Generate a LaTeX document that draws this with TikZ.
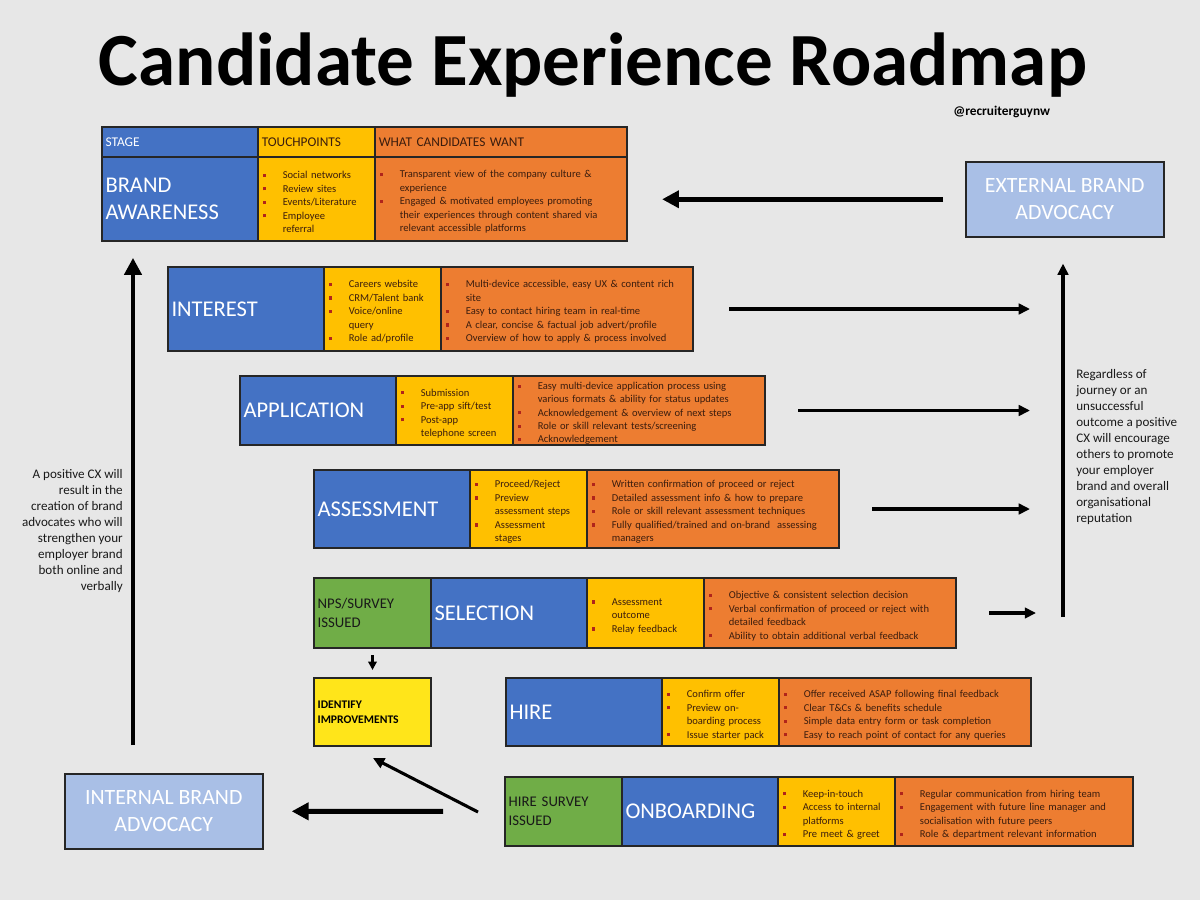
\documentclass[tikz,border=0pt]{standalone}
\usepackage{fontspec}
\setmainfont{Carlito}
\usetikzlibrary{positioning, arrows.meta, calc}

\definecolor{bggray}{HTML}{E7E7E7}
\definecolor{cblue}{HTML}{4472C4}
\definecolor{cyellow}{HTML}{FFC000}
\definecolor{corange}{HTML}{ED7D31}
\definecolor{cgreen}{HTML}{70AD47}
\definecolor{clight}{HTML}{A9BFE6}
\definecolor{cident}{HTML}{FFE51A}
\definecolor{ink}{HTML}{3B1D0E}
\definecolor{bulred}{HTML}{B0241B}

\newcommand\pxu{0.025cm}
% bullet item with hanging indent
\newcommand\itm[1]{\par\noindent\hangindent=15pt\hangafter=1%
  \makebox[15pt][l]{\hspace{1pt}\textcolor{bulred}{\rule[0.35ex]{0.3em}{0.3em}}}#1\par}

\tikzset{
  cell/.style={draw=black!85, line width=1.1pt, outer sep=0pt, inner xsep=2.5pt, inner ysep=0pt,
    anchor=north west, align=left, text=ink, font=\fontsize{7.5}{9.6}\selectfont},
  stagecell/.style={cell, fill=cblue, text=white, minimum width=156*\pxu, text width=106pt,
    font=\fontsize{16}{19}\selectfont},
  touchcell/.style={cell, fill=cyellow, minimum width=117*\pxu, text width=78pt},
  wantcell/.style={cell, fill=corange, minimum width=252*\pxu, text width=174pt},
  surveycell/.style={cell, fill=cgreen, text=black!90, minimum width=117*\pxu, text width=78pt,
    font=\fontsize{10.5}{13.5}\selectfont},
  headcell/.style={cell, minimum height=30*\pxu, font=\fontsize{9.5}{11}\selectfont},
  advocacy/.style={draw=black!85, line width=1.1pt, fill=clight, text=white, anchor=north west,
    minimum width=198*\pxu, minimum height=75*\pxu, align=center, font=\fontsize{15.5}{19.5}\selectfont},
  note/.style={font=\fontsize{9.3}{11.4}\selectfont, text=black!90, inner sep=0pt},
  flow/.style={line width=3.5pt, -{Triangle[length=12pt, width=12pt]}},
  link/.style={line width=2.2pt, -{Triangle[length=8pt, width=7.5pt]}},
}

\begin{document}
\begin{tikzpicture}[x=0.025cm, y=-0.025cm]

  \fill[bggray] (0,0) rectangle (1200,900);
  \useasboundingbox (0,0) rectangle (1200,900);

  \node[font=\fontsize{53.4}{60}\selectfont\bfseries] (title) at (593,65) {Candidate Experience Roadmap};
  \node[font=\fontsize{9.5}{11}\selectfont\bfseries, anchor=west, inner sep=0pt] (handle) at (953,112) {@recruiterguynw};

  % Header row
  \node[headcell, fill=cblue, text=white, minimum width=156*\pxu, text width=106pt] (headStage) at (102,127) {STAGE};
  \node[headcell, fill=cyellow, minimum width=117*\pxu, text width=78pt, right=0pt of headStage] (headTouch) {TOUCHPOINTS};
  \node[headcell, fill=corange, minimum width=252*\pxu, text width=174pt, right=0pt of headTouch] (headWant) {WHAT CANDIDATES WANT};

  % Brand awareness
  \node[stagecell, minimum height=84*\pxu] (awareStage) at (102,157) {BRAND\\AWARENESS};
  \node[touchcell, minimum height=84*\pxu, right=0pt of awareStage] (awareTouch)
    {\itm{Social networks}\itm{Review sites}\itm{Events/Literature}\itm{Employee\newline referral}};
  \node[wantcell, minimum height=84*\pxu, right=0pt of awareTouch] (awareWant)
    {\itm{Transparent view of the company culture \&\newline experience}%
     \itm{Engaged \& motivated employees promoting\newline their experiences through content shared via\newline relevant accessible platforms}};

  % Interest
  \node[stagecell, minimum height=84*\pxu] (intStage) at (168,267) {INTEREST};
  \node[touchcell, minimum height=84*\pxu, right=0pt of intStage] (intTouch)
    {\itm{Careers website}\itm{CRM/Talent bank}\itm{Voice/online\newline query}\itm{Role ad/profile}};
  \node[wantcell, minimum height=84*\pxu, right=0pt of intTouch] (intWant)
    {\itm{Multi-device accessible, easy UX \& content rich\newline site}%
     \itm{Easy to contact hiring team in real-time}%
     \itm{A clear, concise \& factual job advert/profile}%
     \itm{Overview of how to apply \& process involved}};

  % Application
  \node[stagecell, minimum height=69*\pxu] (appStage) at (240,376) {APPLICATION};
  \node[touchcell, minimum height=69*\pxu, right=0pt of appStage] (appTouch)
    {\itm{Submission}\itm{Pre-app sift/test}\itm{Post-app\newline telephone screen}};
  \node[wantcell, minimum height=69*\pxu, right=0pt of appTouch, font=\fontsize{7.5}{9.4}\selectfont] (appWant)
    {\itm{Easy multi-device application process using\newline various formats \& ability for status updates}%
     \itm{Acknowledgement \& overview of next steps}%
     \itm{Role or skill relevant tests/screening}%
     \itm{Acknowledgement}};

  % Assessment
  \node[stagecell, minimum height=78*\pxu] (assStage) at (314,470) {ASSESSMENT};
  \node[touchcell, minimum height=78*\pxu, right=0pt of assStage] (assTouch)
    {\itm{Proceed/Reject}\itm{Preview\newline assessment steps}\itm{Assessment\newline stages}};
  \node[wantcell, minimum height=78*\pxu, right=0pt of assTouch] (assWant)
    {\itm{Written confirmation of proceed or reject}%
     \itm{Detailed assessment info \& how to prepare}%
     \itm{Role or skill relevant assessment techniques}%
     \itm{Fully qualified/trained and on-brand\ \ assessing\newline managers}};

  % Selection
  \node[surveycell, minimum height=70*\pxu] (npsSurvey) at (314,578) {NPS/SURVEY\\ISSUED};
  \node[stagecell, minimum height=70*\pxu, right=0pt of npsSurvey] (selStage) {SELECTION};
  \node[touchcell, minimum height=70*\pxu, right=0pt of selStage] (selTouch)
    {\itm{Assessment\newline outcome}\itm{Relay feedback}};
  \node[wantcell, minimum height=70*\pxu, right=0pt of selTouch] (selWant)
    {\itm{Objective \& consistent selection decision}%
     \itm{Verbal confirmation of proceed or reject with\newline detailed feedback}%
     \itm{Ability to obtain additional verbal feedback}};

  % Identify improvements
  \node[cell, fill=cident, text=black, minimum width=117*\pxu, text width=78pt, minimum height=68*\pxu,
    font=\fontsize{8.3}{11}\selectfont\bfseries] (identify) at (314,678) {IDENTIFY\\IMPROVEMENTS};

  % Hire
  \node[stagecell, minimum height=68*\pxu] (hireStage) at (506,678) {HIRE};
  \node[touchcell, minimum height=68*\pxu, right=0pt of hireStage] (hireTouch)
    {\itm{Confirm offer}\itm{Preview on-\newline boarding process}\itm{Issue starter pack}};
  \node[wantcell, minimum height=68*\pxu, right=0pt of hireTouch] (hireWant)
    {\itm{Offer received ASAP following final feedback}%
     \itm{Clear T\&Cs \& benefits schedule}%
     \itm{Simple data entry form or task completion}%
     \itm{Easy to reach point of contact for any queries}};

  % Onboarding
  \node[surveycell, minimum height=69*\pxu] (onbSurvey) at (505,777) {HIRE SURVEY\\ISSUED};
  \node[stagecell, minimum height=69*\pxu, right=0pt of onbSurvey] (onbStage) {ONBOARDING};
  \node[touchcell, minimum height=69*\pxu, right=0pt of onbStage] (onbTouch)
    {\itm{Keep-in-touch}\itm{Access to internal\newline platforms}\itm{Pre meet \& greet}};
  \node[wantcell, minimum width=238*\pxu, text width=164pt, minimum height=69*\pxu, right=0pt of onbTouch] (onbWant)
    {\itm{Regular communication from hiring team}%
     \itm{Engagement with future line manager and\newline socialisation with future peers}%
     \itm{Role \& department relevant information}};

  % Advocacy boxes
  \node[advocacy] (extBrand) at (965,161) {EXTERNAL BRAND\\ADVOCACY};
  \node[advocacy] (intBrand) at (64,773) {INTERNAL BRAND\\ADVOCACY};

  % Side notes
  \node[note, anchor=north east, align=right] (leftNote) at (123,469)
    {A positive CX will\\result in the\\creation of brand\\advocates who will\\strengthen your\\employer brand\\both online and\\verbally};
  \node[note, anchor=north west, align=left] (rightNote) at (1076,369)
    {Regardless of\\journey or an\\unsuccessful\\outcome a positive\\CX will encourage\\others to promote\\your employer\\brand and overall\\organisational\\reputation};

  % Rails
  \coordinate (railBot) at (1063,617);
  \coordinate (leftBot) at (133,745);
  \coordinate (diagFrom) at (478,812);
  \coordinate (diagTo) at (373,758);

  % Arrows
  \draw[flow, shorten <=15.6pt, shorten >=24.9pt] (extBrand.west) -- (awareWant.east |- extBrand.west);
  \draw[link, shorten <=25.6pt, shorten >=23.5pt] (intWant.east) -- (intWant.east -| railBot);
  \draw[link, shorten <=23.5pt, shorten >=23.5pt] (appWant.east) -- (appWant.east -| railBot);
  \draw[link, shorten <=23.5pt, shorten >=23.5pt] (assWant.east) -- (assWant.east -| railBot);
  \draw[link, shorten <=23.5pt, shorten >=19.2pt] (selWant.east) -- (selWant.east -| railBot);
  \draw[link, shorten >=18.5pt] (railBot) -- (railBot |- extBrand.south);
  \draw[flow, shorten >=12pt] (leftBot) -- (leftBot |- awareStage.south);
  \draw[flow, shorten <=44pt, shorten >=20pt] (onbSurvey.west) -- (intBrand.east);
  \draw[link] (diagFrom) -- (diagTo);
  \draw[link, line width=1.8pt, -{Triangle[length=6pt, width=6pt]}, shorten <=5pt, shorten >=5.7pt] (npsSurvey.south) -- (identify.north);

\end{tikzpicture}
\end{document}
